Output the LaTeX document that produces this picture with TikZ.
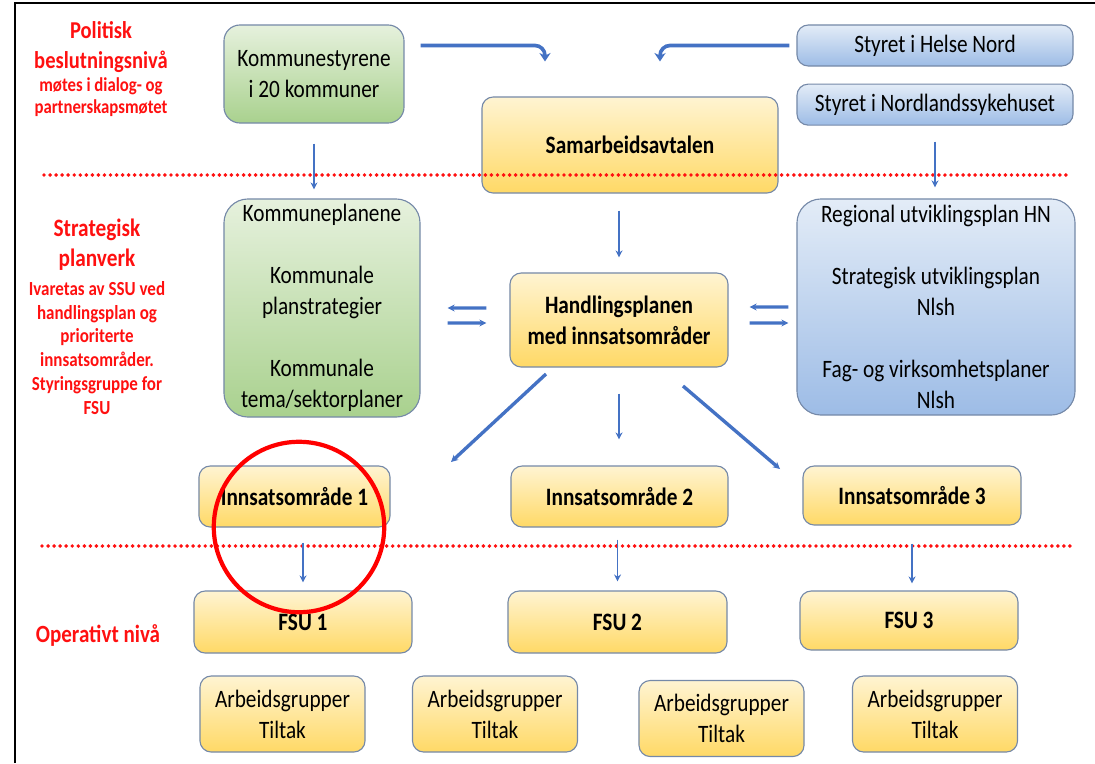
\documentclass[tikz,border=0pt]{standalone}
\usepackage{fontspec}
\setmainfont{Carlito}[FakeStretch=0.85]
\usepackage{tikz}
\usetikzlibrary{positioning, arrows.meta, calc}
\definecolor{pilblaa}{HTML}{4472C4}
\definecolor{boxline}{HTML}{7589A8}
\definecolor{gultop}{HTML}{FFF4D2}
\definecolor{gulbunn}{HTML}{FFD966}
\definecolor{gronntop}{HTML}{E6F1DD}
\definecolor{gronnbunn}{HTML}{A9D18E}
\definecolor{blaatop}{HTML}{E3ECF7}
\definecolor{blaabunn}{HTML}{9DBCE6}
\definecolor{nivaarod}{HTML}{FF1010}
\newcommand{\boksfont}{\fontsize{17.8}{22}\selectfont}
\tikzstyle{box} = [draw=boxline, line width=0.8pt, rounded corners=0.28cm, align=center, inner sep=0pt, font=\boksfont]
\tikzstyle{gulbox} = [box, top color=gultop, bottom color=gulbunn, font=\boksfont\bfseries]
\tikzstyle{arbbox} = [box, top color=gultop, bottom color=gulbunn, minimum width=4.125cm, minimum height=1.9cm]
\tikzstyle{gronnbox} = [box, top color=gronntop, bottom color=gronnbunn, rounded corners=0.6cm]
\tikzstyle{blaabox} = [box, top color=blaatop, bottom color=blaabunn]
\tikzstyle{nivaa} = [text=nivaarod, align=center, inner sep=0pt, font=\bfseries]
\tikzstyle{pil} = [draw=pilblaa, line width=1.4pt, -{Stealth[length=5pt, width=5pt]}]
\tikzstyle{tykkpil} = [pil, line width=2.6pt, -{Stealth[length=6pt, width=8pt]}]
\tikzstyle{prikklinje} = [draw=nivaarod, line width=2.8pt, line cap=round, dash pattern=on 0pt off 4.3pt]

\begin{document}
\begin{tikzpicture}[x=0.025cm, y=-0.025cm]
    \useasboundingbox (0,0) rectangle (1095,763);
    \draw[line width=2pt] (15,763) -- (15,3) -- (1095,3);

    % nivaa
    \node[nivaa, font=\fontsize{17.2}{21.3}\selectfont\bfseries] (politisk) at (101,47) {Politisk\\beslutningsnivå};
    \node[nivaa, font=\fontsize{14}{15.6}\selectfont\bfseries] (politisksub) at (101,97) {møtes i dialog- og\\partnerskapsmøtet};
    \node[nivaa, font=\fontsize{17.8}{21.3}\selectfont\bfseries] (strategisk) at (97,245) {Strategisk\\planverk};
    \node[nivaa, font=\fontsize{14.2}{17}\selectfont\bfseries] (strategisksub) at (97,348) {Ivaretas av SSU ved\\handlingsplan og\\prioriterte\\innsatsområder.\\Styringsgruppe for\\FSU};
    \node[nivaa, font=\fontsize{17.6}{21}\selectfont\bfseries] (operativt) at (98,635) {Operativt nivå};

    % politisk
    \node[gronnbox, rounded corners=0.4cm, minimum width=4.5cm, minimum height=2.45cm] (kommst) at (314,74) {Kommunestyrene\\i 20 kommuner};
    \node[gulbox, minimum width=7.4cm, minimum height=2.4cm] (samarb) at (630,145) {Samarbeidsavtalen};
    \node[blaabox, minimum width=6.9cm, minimum height=1.025cm] (helse) at (935,45.5) {Styret i Helse Nord};
    \node[blaabox, minimum width=6.9cm, minimum height=1.025cm, below=0.425cm of helse] (nlsh) {Styret i Nordlandssykehuset};

    % strategisk
    \node[gronnbox, minimum width=4.9cm, minimum height=5.45cm] (kplan) at (322,308) {Kommuneplanene\\[22pt]Kommunale\\planstrategier\\[22pt]Kommunale\\tema/sektorplaner};
    \node[gulbox, minimum width=5.45cm, minimum height=2.35cm] (handl) at (619,320) {Handlingsplanen\\med innsatsområder};
    \node[blaabox, rounded corners=0.6cm, minimum width=6.95cm, minimum height=5.4cm] (hplan) at (936,307) {Regional utviklingsplan HN\\[22pt]Strategisk utviklingsplan\\Nlsh\\[22pt]Fag- og virksomhetsplaner\\Nlsh};

    \node[gulbox, minimum width=4.775cm, minimum height=1.525cm] (inn1) at (294.5,496.5) {Innsatsområde 1};
    \node[gulbox, minimum width=5.425cm, minimum height=1.525cm] (inn2) at (619.5,496.5) {Innsatsområde 2};
    \node[gulbox, minimum width=5.45cm, minimum height=1.475cm] (inn3) at (912,495.5) {Innsatsområde 3};

    % operativt
    \node[gulbox, minimum width=5.45cm, minimum height=1.55cm] (fsu1) at (303,622) {FSU 1};
    \node[gulbox, minimum width=5.475cm, minimum height=1.55cm] (fsu2) at (617.5,622) {FSU 2};
    \node[gulbox, minimum width=5.45cm, minimum height=1.475cm] (fsu3) at (909,620.5) {FSU 3};

    \node[arbbox] (arb1) at (282.5,714) {Arbeidsgrupper\\Tiltak};
    \node[arbbox] (arb2) at (495,714) {Arbeidsgrupper\\Tiltak};
    \node[arbbox] (arb3) at (721.5,718.5) {Arbeidsgrupper\\Tiltak};
    \node[arbbox] (arb4) at (935,714) {Arbeidsgrupper\\Tiltak};

    % skillelinjer
    \draw[prikklinje] (44,175) -- (1066,175);
    \draw[prikklinje] (42,546) -- (1073,546);

    % piler
    \draw[tykkpil, rounded corners=0.25cm, shorten <=0.4cm, shorten >=0.875cm] (kommst.east |- helse.west) -| ([xshift=-2.125cm]samarb.north);
    \draw[tykkpil, rounded corners=0.25cm, shorten <=0.175cm, shorten >=0.875cm] (helse.west) -| ([xshift=0.75cm]samarb.north);
    \draw[pil, shorten <=0.5cm, shorten >=0.225cm] (kommst.south) -- (kommst.south |- kplan.north);
    \draw[pil, shorten <=0.4cm, shorten >=0.275cm] (nlsh.south) -- (nlsh.south |- hplan.north);
    \draw[pil, shorten <=0.425cm, shorten >=0.375cm] (handl.north |- samarb.south) -- (handl.north);

    \draw[pil, line width=2.2pt, shorten <=0.575cm, shorten >=0.675cm] ([yshift=0.3cm]handl.west) -- (kplan.east);
    \draw[pil, line width=2.2pt, shorten <=0.675cm, shorten >=0.575cm] ([yshift=-0.375cm]kplan.east) -- ([yshift=-0.075cm]handl.west);
    \draw[pil, line width=2.2pt, shorten <=0.2cm, shorten >=0.525cm] (hplan.west) -- ([yshift=0.325cm]handl.east);
    \draw[pil, line width=2.2pt, shorten <=0.525cm, shorten >=0.2cm] ([yshift=-0.075cm]handl.east) -- ([yshift=-0.4cm]hplan.west);

    \coordinate (h1) at (546,374);
    \coordinate (i1) at (451,462);
    \coordinate (h3) at (683,386);
    \coordinate (i3) at (780,469);
    \draw[pil, line width=2.4pt] (h1) -- (i1);
    \draw[pil, line width=2.4pt] (h3) -- (i3);
    \draw[pil, shorten <=0.65cm, shorten >=0.65cm] (handl.south) -- (handl.south |- inn2.north);

    \draw[pil, shorten <=0.375cm, shorten >=0.2cm] (fsu1.north |- inn1.south) -- (fsu1.north);
    \draw[pil, shorten <=0.3cm, shorten >=0.225cm] (fsu2.north |- inn2.south) -- (fsu2.north);
    \draw[pil, shorten <=0.45cm, shorten >=0.175cm] (inn3.south) -- (inn3.south |- fsu3.north);

    % markering
    \draw[red, line width=3pt] (299,527) circle[radius=2.13cm];
\end{tikzpicture}
\end{document}
